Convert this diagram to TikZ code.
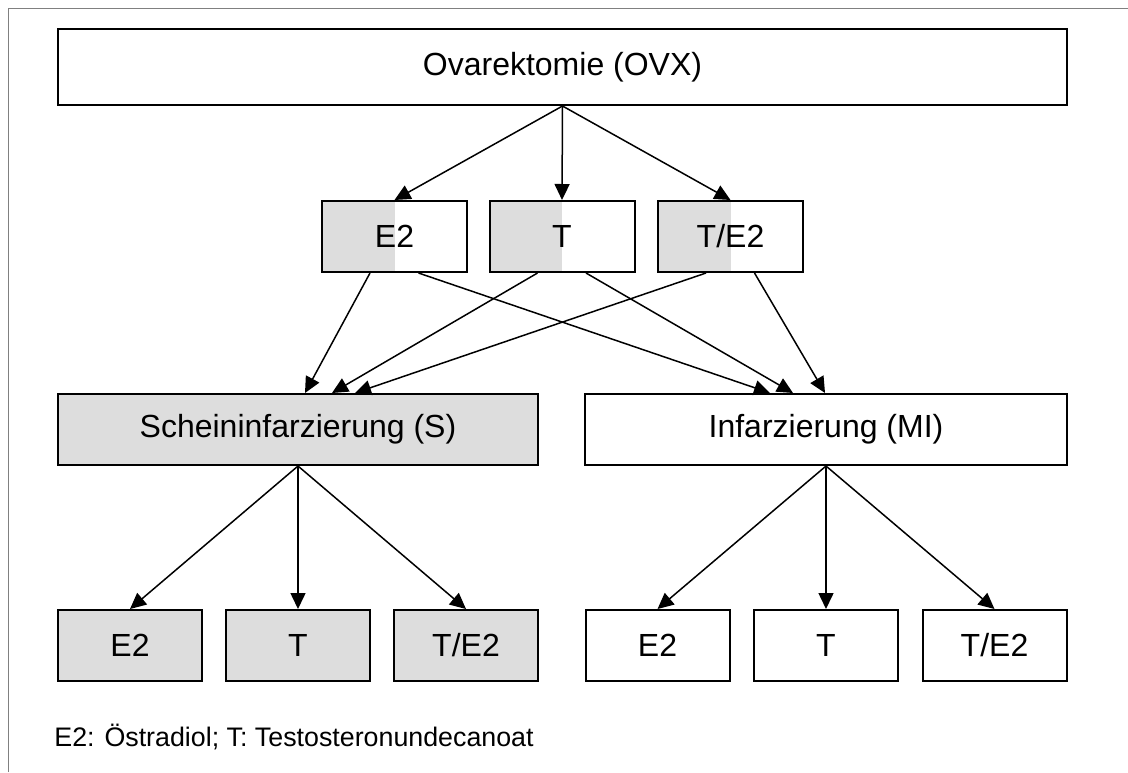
\documentclass[tikz,border=0pt]{standalone}
\usepackage{fontspec}
\setmainfont{Liberation Sans}
\usetikzlibrary{arrows.meta}
\definecolor{shamgray}{RGB}{221,221,221}
\definecolor{framegray}{RGB}{128,128,128}
\tikzset{
	box/.style={draw, line width=1pt, inner sep=0pt, minimum width=72.5pt, minimum height=35.5pt, font=\fontsize{16}{19}\selectfont},
	shambox/.style={box, fill=shamgray},
	halfbox/.style={box, path picture={\fill[shamgray] (path picture bounding box.south west) rectangle (path picture bounding box.north);}},
	arr/.style={-{Triangle[length=8pt,width=7.5pt]}, line width=0.75pt},
}

\begin{document}
\begin{tikzpicture}[x=0.5pt, y=-0.5pt]
		%%%%% START %%%%%
		
		\useasboundingbox (0, 0) rectangle (1128, 772);
		\draw[framegray, line width=0.5pt] (8, 772) -- (8, 8) -- (1128, 8);
		
		\node[box, minimum width=504.5pt, minimum height=38pt] (ovx) at (562.5, 67) {Ovarektomie (OVX)};
		
		\node[halfbox] (e2m) at (394.5, 236.5) {E2};
		\node[halfbox] (tm) at (562, 236.5) {T};
		\node[halfbox] (te2m) at (730.5, 236.5) {T/E2};
		
		\node[shambox, minimum width=240pt] (sham) at (298, 429.5) {Scheininfarzierung (S)};
		\node[box, minimum width=241pt] (mi) at (826, 429.5) {Infarzierung (MI)};
		
		\node[shambox, minimum width=72pt] (e2s) at (130, 645.5) {E2};
		\node[shambox, minimum width=72pt] (ts) at (298, 645.5) {T};
		\node[shambox, minimum width=72pt] (te2s) at (466, 645.5) {T/E2};
		
		\node[box, minimum width=72pt] (e2i) at (657.5, 645.5) {E2};
		\node[box, minimum width=72pt] (ti) at (826, 645.5) {T};
		\node[box, minimum width=72pt] (te2i) at (994.5, 645.5) {T/E2};
		
		\node[anchor=base west, inner sep=0pt, font=\fontsize{13.4}{16}\selectfont] (legend) at (54, 746) {E2: Östradiol; T: Testosteronundecanoat};
		
		% OVX -> Behandlung
		\draw[arr] (ovx.south) -- (e2m.north);
		\draw[arr] (ovx.south) -- (tm.north);
		\draw[arr] (ovx.south) -- (te2m.north);
		
		% Behandlung -> S / MI
		\draw[arr] ([xshift=-12.25pt]e2m.south) -- ([xshift=3.5pt]sham.north);
		\draw[arr] ([xshift=-12.25pt]tm.south) -- ([xshift=17pt]sham.north);
		\draw[arr] ([xshift=-12.25pt]te2m.south) -- ([xshift=28.5pt]sham.north);
		\draw[arr] ([xshift=12pt]e2m.south) -- ([xshift=-28pt]mi.north);
		\draw[arr] ([xshift=12pt]tm.south) -- ([xshift=-16.5pt]mi.north);
		\draw[arr] ([xshift=12pt]te2m.south) -- ([xshift=-0.5pt]mi.north);
		
		% S / MI -> Gruppen
		\draw[arr] (sham.south) -- (e2s.north);
		\draw[arr] (sham.south) -- (ts.north);
		\draw[arr] (sham.south) -- (te2s.north);
		\draw[arr] (mi.south) -- (e2i.north);
		\draw[arr] (mi.south) -- (ti.north);
		\draw[arr] (mi.south) -- (te2i.north);
		
		%%%%% END %%%%%
\end{tikzpicture}
\end{document}
